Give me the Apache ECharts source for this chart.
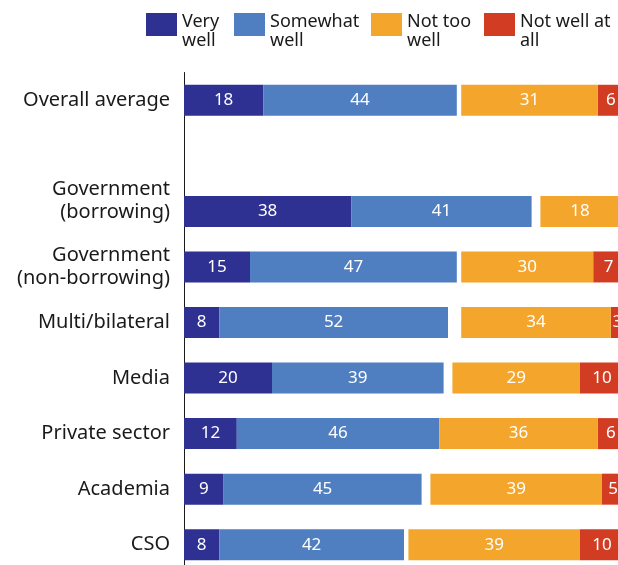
<!DOCTYPE html>
<html>
<head>
<meta charset="utf-8">
<script src="https://cdn.jsdelivr.net/npm/echarts@6/dist/echarts.min.js"></script>
<style>
  html, body { margin: 0; padding: 0; background: #fff; }
  #chart { width: 618px; height: 565px; }
</style>
</head>
<body>
<div id="chart"></div>
<script>
// Respondent groups (blank entry leaves a gap under the overall average)
const categories = ['Overall average', '', 'Government\n(borrowing)', 'Government\n(non-borrowing)',
  'Multi/bilateral', 'Media', 'Private sector', 'Academia', 'CSO'];

// Shares of responses, %
const veryWell     = [18, null, 38, 15, 8, 20, 12, 9, 8];
const somewhatWell = [44, null, 41, 47, 52, 39, 46, 45, 42];
const notTooWell   = [31, null, 18, 30, 34, 29, 36, 39, 39];
const notWellAtAll = [6, null, 1, 7, 3, 10, 6, 5, 10];

const seriesNames = ['Very well', 'Somewhat well', 'Not too well', 'Not well at all'];
const legendLabels = ['Very\nwell', 'Somewhat\nwell', 'Not too\nwell', 'Not well at\nall'];

const FONT = '"Noto Sans", sans-serif';
const colors = {
  'Very well': '#2E3192',
  'Somewhat well': '#4F7EC1',
  'Not too well': '#F4A52C',
  'Not well at all': '#D13C23'
};

const chart = echarts.init(document.getElementById('chart'), null, { renderer: 'canvas' });

const valueLabel = {
  show: true,
  position: 'inside',
  color: '#fff',
  fontSize: 17,
  fontFamily: FONT,
  formatter: p => (p.value == null ? '' : p.value)
};

function bar(name, data, stack, xAxisIndex) {
  return {
    name, type: 'bar', stack, xAxisIndex, data,
    barWidth: 31, barGap: '-100%',
    itemStyle: { color: colors[name] },
    label: valueLabel,
    emphasis: { disabled: true }
  };
}

// One legend block per series; a spacer line lowers the two-line text
// so that its first line sits level with the swatch
const legendLefts = [146, 234, 371, 484];
const legends = seriesNames.map((name, i) => ({
  data: [name],
  left: legendLefts[i],
  top: -1.5,
  padding: 0,
  itemWidth: 31,
  itemHeight: 23,
  itemGap: 0,
  icon: 'rect',
  selectedMode: false,
  formatter: () => '{sp|}\n' + legendLabels[i],
  textStyle: {
    fontFamily: FONT, fontSize: 18, lineHeight: 19, color: '#1a1a1a',
    rich: { sp: { lineHeight: 14, fontSize: 10 } }
  }
}));

chart.setOption({
  animation: false,
  backgroundColor: '#fff',
  legend: legends,
  // the plot runs slightly past the right and bottom edges of the canvas
  grid: {
    left: 184, width: 440, top: 72.5, height: 500,
    containLabel: false, outerBoundsMode: 'none'
  },
  xAxis: [
    { type: 'value', min: 0, max: 100, show: false },
    { type: 'value', min: 0, max: 100, inverse: true, show: false }
  ],
  yAxis: {
    type: 'category',
    inverse: true,
    data: categories,
    axisTick: { show: false },
    axisLine: { show: true, lineStyle: { color: '#1a1a1a', width: 1 } },
    axisLabel: {
      margin: 14,
      fontFamily: FONT, fontSize: 20, lineHeight: 23, color: '#1a1a1a',
      formatter: v => (v === 'Government\n(borrowing)' ? v + '\n{gap|}' : v),
      rich: { gap: { lineHeight: 22, fontSize: 10 } }
    },
    splitLine: { show: false }
  },
  series: [
    bar('Very well', veryWell, 'agree', 0),
    bar('Somewhat well', somewhatWell, 'agree', 0),
    bar('Not well at all', notWellAtAll, 'disagree', 1),
    bar('Not too well', notTooWell, 'disagree', 1)
  ]
});
</script>
</body>
</html>
